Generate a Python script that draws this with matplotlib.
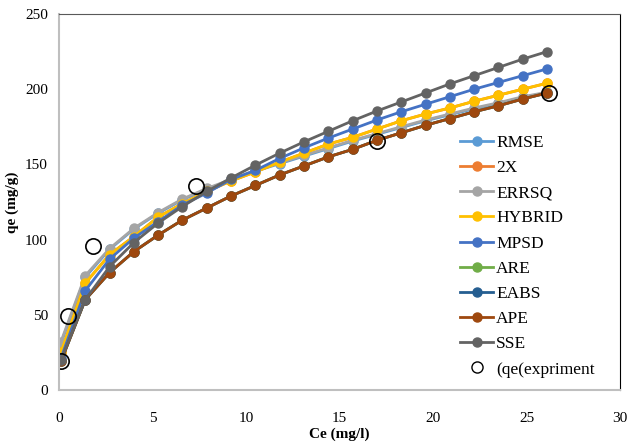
import matplotlib
matplotlib.use("Agg")
import matplotlib.pyplot as plt

plt.rcParams['font.family'] = ['Liberation Serif', 'DejaVu Serif']

ce = [0.1, 1.4, 2.7, 4.0, 5.3, 6.6, 7.9, 9.2, 10.5, 11.8, 13.1, 14.4, 15.7,
      17.0, 18.3, 19.6, 20.9, 22.2, 23.5, 24.8, 26.1]

errsq = [32, 76, 94, 107.5, 118, 127, 134, 140, 146, 151, 156, 161, 166,
         170.5, 175, 179.5, 183.5, 187.5, 191, 195, 198]
hybrid = [25, 71, 90, 102, 115, 124, 132, 139, 145, 151.5, 157.5, 163.5, 168,
          173.5, 179, 183.5, 187.5, 192, 196, 200, 204]
mpsd = [21, 66, 87, 101, 112, 123, 131, 140, 146, 154, 161, 167.5, 173.5,
        179.5, 185, 190, 195, 200, 204.5, 209, 213.5]
ape = [19, 60, 78, 92, 103, 113, 121, 129, 136, 143, 149, 155, 160,
       166, 171, 176, 180.5, 185, 189, 193.5, 197.5]
sse = [20, 60, 82, 98, 111, 122, 132, 141, 149.5, 157.5, 165, 172, 179,
       185.5, 191.5, 197.5, 203.5, 209, 214.5, 220, 225]
rmse = [31, 75, 93.5, 107, 117.5, 126.5, 133.5, 139.5, 145.5, 150.5, 155.5, 160.5, 165.5,
        170, 174.5, 179, 183, 187, 190.5, 194.5, 197.5]
chi2 = [25, 71, 90, 102, 115, 124, 132, 139, 145, 151.5, 157.5, 163.5, 168,
        173.5, 179, 183.5, 187.5, 192, 196, 200, 204]
are = [19, 60, 78, 92, 103, 113, 121, 129, 136, 143, 149, 155, 160,
       166, 171, 176, 180.5, 185, 189, 193.5, 197.5]
eabs = [19, 60, 78, 92, 103, 113, 121, 129, 136, 143, 149, 155, 160,
        166, 171, 176, 180.5, 185, 189, 193.5, 197.5]

exp_ce = [0.1, 0.5, 1.8, 7.3, 17.0, 26.2]
exp_qe = [19.5, 49, 96, 135.5, 165.5, 197.5]

series = [
    ("RMSE", rmse, "#5B9BD5"),
    ("2X", chi2, "#ED7D31"),
    ("ERRSQ", errsq, "#A5A5A5"),
    ("HYBRID", hybrid, "#FFC000"),
    ("MPSD", mpsd, "#4472C4"),
    ("ARE", are, "#70AD47"),
    ("EABS", eabs, "#255E91"),
    ("APE", ape, "#9E480E"),
    ("SSE", sse, "#636363"),
]

fig = plt.figure(figsize=(6.3, 4.47), dpi=100)
ax = fig.add_axes([0.0937, 0.1275, 0.8905, 0.8412])

for name, vals, col in series:
    ax.plot(ce, vals, color=col, lw=2.0, marker='o', markersize=6.5,
            markeredgecolor=col, label=name)

ax.plot(exp_ce, exp_qe, linestyle='none', marker='o', markersize=11,
        markerfacecolor='none', markeredgecolor='black', markeredgewidth=1.2,
        label='(qe(expriment')

ax.set_xlim(0, 30)
ax.set_ylim(0, 250)
ax.set_xticks(range(0, 31, 5))
ax.set_yticks(range(0, 251, 50))
ax.tick_params(axis='x', length=0, labelsize=11, pad=16)
ax.tick_params(axis='y', length=0, labelsize=11, pad=8)
ax.set_xlabel("Ce (mg/l)", fontsize=11, fontweight='bold', labelpad=2)
ax.set_ylabel("qe (mg/g)", fontsize=11, fontweight='bold', labelpad=4)

ax.spines['left'].set_color('#BFBFBF')
ax.spines['bottom'].set_color('#BFBFBF')
ax.spines['left'].set_linewidth(1.5)
ax.spines['bottom'].set_linewidth(1.5)
ax.spines['top'].set_color('#595959')
ax.spines['right'].set_color('black')

leg = ax.legend(loc='center left', bbox_to_anchor=(0.703, 0.356), frameon=False,
                fontsize=12.5, handlelength=1.9, handletextpad=0.15,
                labelspacing=0.52, borderaxespad=0)
leg.legend_handles[-1].set_markersize(8)
leg.legend_handles[-1].set_markeredgewidth(1.0)

fig.savefig("out.png", dpi=100)
